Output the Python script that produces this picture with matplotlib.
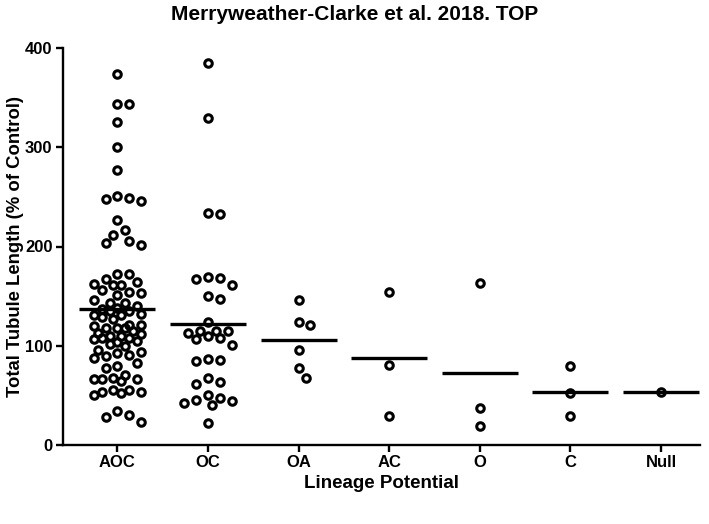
import matplotlib.pyplot as plt
import numpy as np

plt.rcParams['font.family'] = ['Liberation Sans', 'DejaVu Sans']
plt.rcParams['font.weight'] = 'bold'

# lineage groups and the per-cell values (% of control)
groups = ['AOC', 'OC', 'OA', 'AC', 'O', 'C', 'Null']

aoc = [374, 344, 344, 325, 300, 277, 251, 248, 246, 249, 227, 217, 212, 204, 202, 206,
       172, 164, 167, 172, 161, 156, 153, 151, 154, 162, 161,
       140, 143, 146, 143, 137, 135, 138, 135, 132, 127, 131, 131, 129,
       118, 121, 118, 121, 118, 120, 112, 110, 108, 110, 113, 115, 108,
       104, 105, 107, 102, 100, 96, 90, 83, 94, 93, 88, 91, 78, 80,
       71, 66, 66, 64, 66, 68, 53, 55, 50, 52, 53, 55, 30, 34, 28, 23]
oc = [385, 329, 233, 234, 168, 167, 169, 161, 147, 150, 124, 115, 115, 113, 115, 110,
      107, 108, 101, 85, 87, 86, 68, 61, 63, 50, 45, 42, 40, 44, 47, 22]
oa = [146, 121, 124, 96, 78, 68]
ac = [154, 81, 29]
o = [163, 37, 19]
c = [80, 52, 29]
null = [53]

values = [aoc, oc, oa, ac, o, c, null]

# figure geometry (pixels)
W, H = 709, 524
left, right, top, bottom = 63, 700, 48, 445
xmin, xmax = -0.6, 6.43
ymax = 400

fig = plt.figure(figsize=(W / 100, H / 100), dpi=100)
ax = fig.add_axes([left / W, 1 - bottom / H, (right - left) / W, (bottom - top) / H])

x_px = (right - left) / (xmax - xmin)   # pixels per category
y_px = (bottom - top) / ymax            # pixels per unit


def swarm(vals, d=11.0, cap=27.0):
    # beeswarm limited to +-cap px; when crowded, take the least-overlapping spot
    vals = np.asarray(vals, dtype=float)
    offs = np.zeros(len(vals))
    placed = []
    step = d / 2.8
    cands = [0.0]
    k = 1
    while k * step <= cap:
        cands += [k * step, -k * step]
        k += 1
    for i in np.argsort(-vals):
        y = vals[i] * y_px
        best, best_gap = 0.0, -1
        for cx in cands:
            gap = min([np.hypot(cx - px, y - py) for px, py in placed] or [99])
            if gap >= d:
                best = cx
                break
            if gap > best_gap + 0.5:
                best, best_gap = cx, gap
        placed.append((best, y))
        offs[i] = best / x_px
    return offs


for i, vals in enumerate(values):
    xs = i + swarm(vals)
    ax.plot(xs, vals, 'o', ms=5.4, mfc='none', mec='black', mew=2.2,
            zorder=3, clip_on=False)
    ax.hlines(np.mean(vals), i - 0.42, i + 0.42, color='black', lw=2.4, zorder=4)

ax.set_xlim(xmin, xmax)
ax.set_ylim(0, ymax)
ax.set_yticks([0, 100, 200, 300, 400])
ax.set_xticks(range(len(groups)))
ax.set_xticklabels(groups)

for side in ['top', 'right']:
    ax.spines[side].set_visible(False)
for side in ['left', 'bottom']:
    ax.spines[side].set_linewidth(1.7)
ax.tick_params(width=1.7, length=5, labelsize=12, pad=2.5)

fig.text(0.5, 1 - 15 / H, 'Merryweather-Clarke et al. 2018. TOP',
         ha='center', va='center', fontsize=15, fontweight='bold')
ax.set_xlabel('Lineage Potential', fontsize=13.5, fontweight='bold', labelpad=3)
ax.set_ylabel('Total Tubule Length (% of Control)', fontsize=13.3, fontweight='bold', labelpad=1)

fig.savefig('out.png', dpi=100)
